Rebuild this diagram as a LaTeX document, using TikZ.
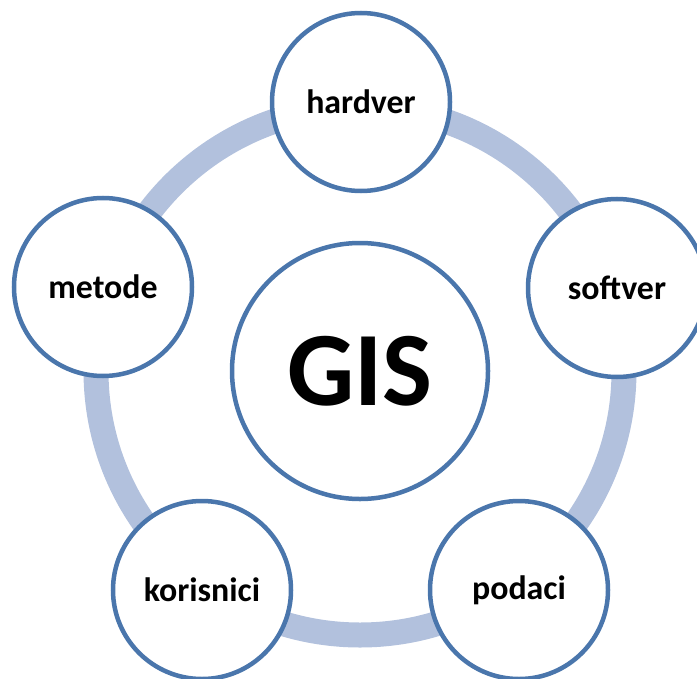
\documentclass[tikz,border=0pt]{standalone}
\usepackage{fontspec}
\setmainfont{Carlito}
\definecolor{ringblue}{RGB}{178,193,221}
\definecolor{edgeblue}{RGB}{74,118,172}
\begin{document}
\begin{tikzpicture}[x=1bp,y=-1bp,
  part/.style={circle,draw=edgeblue,line width=4.5bp,fill=white,minimum size=178bp,inner sep=0pt,
    font=\fontsize{34}{40}\selectfont\bfseries},
  core/.style={circle,draw=edgeblue,line width=4.5bp,fill=white,minimum size=256bp,inner sep=0pt,
    font=\fontsize{106}{120}\selectfont\bfseries}]
\useasboundingbox (0,0) rectangle (697,679);
\clip (0,0) rectangle (697,679);
\coordinate (c) at (360,371);
\draw[ringblue,line width=25bp] (c) circle[radius=264];
\node[core] (gis) at (c) {GIS};
\node[part] (hardver) at (361,102) {hardver};
\node[part] (softver) at (617,288) {softver};
\node[part] (podaci) at (519,590) {podaci};
\node[part] (korisnici) at (202,590) {korisnici};
\node[part] (metode) at (103,287) {metode};
\end{tikzpicture}
\end{document}
